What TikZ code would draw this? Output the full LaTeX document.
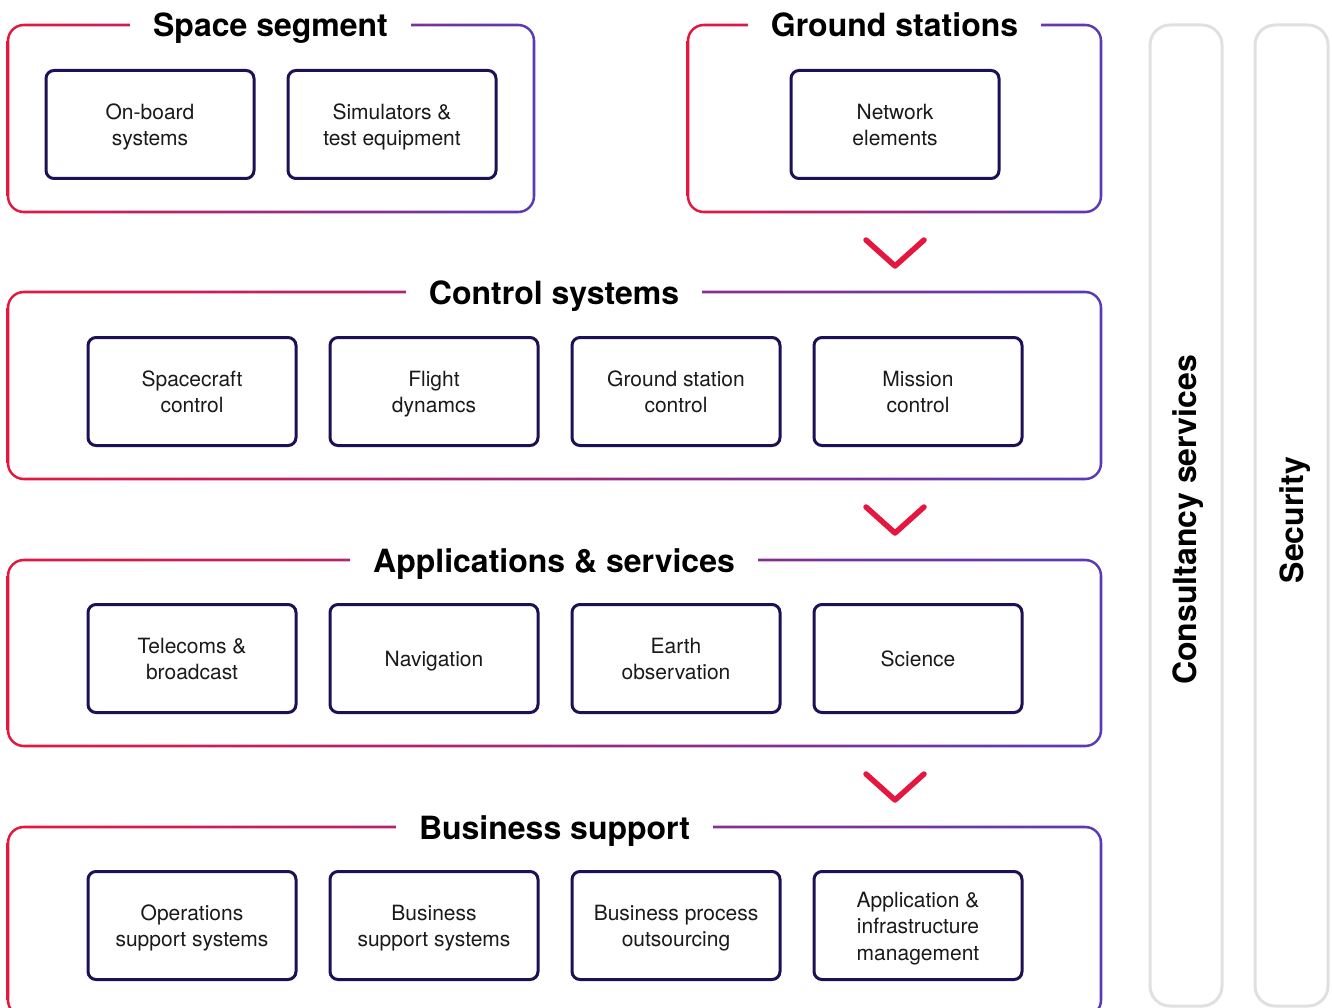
\documentclass[tikz,border=0pt]{standalone}
\usepackage{fontspec}
\setmainfont{TeX Gyre Heros}
\definecolor{cred}{HTML}{E5173F}
\definecolor{cpurple}{HTML}{5A3AB8}
\definecolor{cnavy}{HTML}{1F0F55}
\definecolor{cgray}{HTML}{E0E0E0}
\definecolor{ctext}{HTML}{1A1A1A}
\newcommand\gradframe[4]{%
  \shade[left color=cred, right color=cpurple, rounded corners=17.3pt]
    (#1-1.3,#2-1.3) rectangle (#3+1.3,#4+1.3);
  \fill[white, rounded corners=14.7pt]
    (#1+1.3,#2+1.3) rectangle (#3-1.3,#4-1.3);}
\newcommand\bs{\rule[-5.5pt]{0pt}{27pt}}
\tikzset{
  itembox/.style={draw=cnavy, line width=3pt, rounded corners=8pt,
    minimum width=208pt, minimum height=108pt, align=center,
    text=ctext, font=\fontsize{21}{26.5}\selectfont, inner sep=0pt,
    execute at end node=\bs},
  titlebox/.style={fill=white, text=black, inner xsep=23pt, inner ysep=4pt,
    font=\bfseries\fontsize{32}{36}\selectfont, anchor=base},
  chevron/.style={draw=cred, line width=5.5pt, line cap=round, line join=round},
  column/.style={draw=cgray, line width=3pt, rounded corners=20pt},
  coltext/.style={rotate=90, anchor=base, text=black,
    font=\bfseries\fontsize{32}{36}\selectfont}
}
\begin{document}
\begin{tikzpicture}[x=1pt,y=-1pt]
\useasboundingbox (0,0) rectangle (1332,1008);
\begin{scope}
\clip (0,0) rectangle (1332,1008);
% frames
\gradframe{8}{25}{534}{212}
\gradframe{688}{25}{1101}{212}
\gradframe{8}{292}{1101}{479}
\gradframe{8}{560}{1101}{746}
\gradframe{8}{827}{1101}{1016}
% titles
\node[titlebox] (tspace) at (270.5,37) {Space segment};
\node[titlebox] (tground) at (894.5,37) {Ground stations};
\node[titlebox] (tcontrol) at (554,304) {Control systems};
\node[titlebox] (tapps) at (554,572) {Applications \& services};
\node[titlebox] (tbiz) at (554.5,839) {Business support};
% row 1
\node[itembox] (onboard) at (150,124.5) {\bs On-board\\systems};
\node[itembox] (sim) at (392,124.5) {\bs Simulators \&\\test equipment};
\node[itembox] (net) at (895,124.5) {\bs Network\\elements};
% row 2
\node[itembox] (sc) at (192,391.5) {\bs Spacecraft\\control};
\node[itembox] (fd) at (434,391.5) {\bs Flight\\dynamcs};
\node[itembox] (gsc) at (676,391.5) {\bs Ground station\\control};
\node[itembox] (mc) at (918,391.5) {\bs Mission\\control};
% row 3
\node[itembox] (tel) at (192,658.5) {\bs Telecoms \&\\broadcast};
\node[itembox] (nav) at (434,658.5) {\bs Navigation};
\node[itembox] (eo) at (676,658.5) {\bs Earth\\observation};
\node[itembox] (sci) at (918,658.5) {\bs Science};
% row 4
\node[itembox] (oss) at (192,925.5) {\bs Operations\\support systems};
\node[itembox] (bss) at (434,925.5) {\bs Business\\support systems};
\node[itembox] (bpo) at (676,925.5) {\bs Business process\\outsourcing};
\node[itembox] (aim) at (918,925.5) {\bs Application \&\\infrastructure\\management};
% chevrons
\draw[chevron] (866,240) -- (895,266) -- (924,240);
\draw[chevron] (866,507) -- (895,533) -- (924,507);
\draw[chevron] (866,774) -- (895,800) -- (924,774);
% columns
\draw[column] (1150,25) rectangle (1222,1006);
\draw[column] (1255,25) rectangle (1328,1006);
\node[coltext] (cons) at (1196,520) {Consultancy services};
\node[coltext] (sec) at (1303,520) {Security};
\end{scope}
\end{tikzpicture}
\end{document}
